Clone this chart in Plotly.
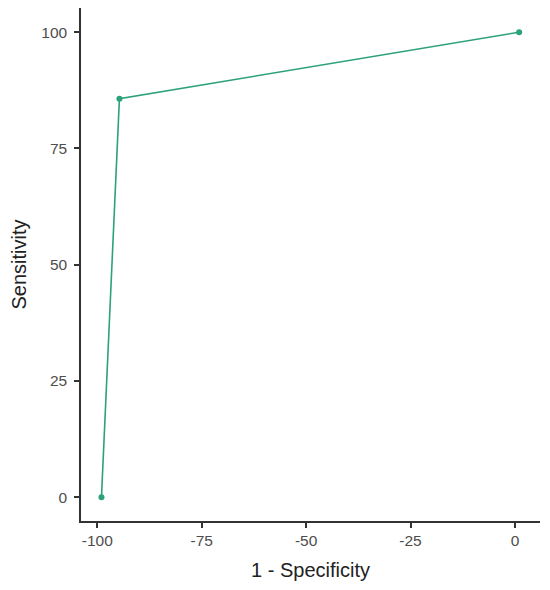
import plotly.graph_objects as go

fpr = [-99.0, -94.7, 1.0]
sensitivity = [0.0, 85.7, 100.0]
x_ticks = [-100, -75, -50, -25, 0]
y_ticks = [0, 25, 50, 75, 100]

color = "#2ba17c"
axis_color = "#333333"

fig = go.Figure()
fig.add_trace(go.Scatter(
    x=fpr, y=sensitivity, mode="lines+markers",
    line=dict(color=color, width=1.6),
    marker=dict(color=color, size=6),
    showlegend=False,
    cliponaxis=False,
))

fig.update_layout(
    width=550, height=590,
    margin=dict(l=73, r=18, t=0, b=77, autoexpand=False),
    paper_bgcolor="white", plot_bgcolor="white",
    font=dict(family="Liberation Sans, Arial, sans-serif", color="#4d4d4d", size=15.5),
)
fig.update_xaxes(
    range=[-103.9, 6.0], tickvals=x_ticks, ticktext=[str(v) for v in x_ticks],
    showgrid=False, zeroline=False, showline=True, linecolor=axis_color, linewidth=1.5,
    ticks="outside", ticklen=5, tickwidth=1.5, tickcolor=axis_color,
    title=dict(text="1 - Specificity", font=dict(size=20, color="#222222"), standoff=15),
)
fig.update_yaxes(
    range=[-5.1, 105.2], tickvals=y_ticks, ticktext=[str(v) for v in y_ticks],
    showgrid=False, zeroline=False, showline=True, linecolor=axis_color, linewidth=1.5,
    ticks="outside", ticklen=5, tickwidth=1.5, tickcolor=axis_color,
    ticklabelstandoff=4,
    title=dict(text="Sensitivity", font=dict(size=20, color="#222222"), standoff=14),
)

fig.write_html("out.html")
